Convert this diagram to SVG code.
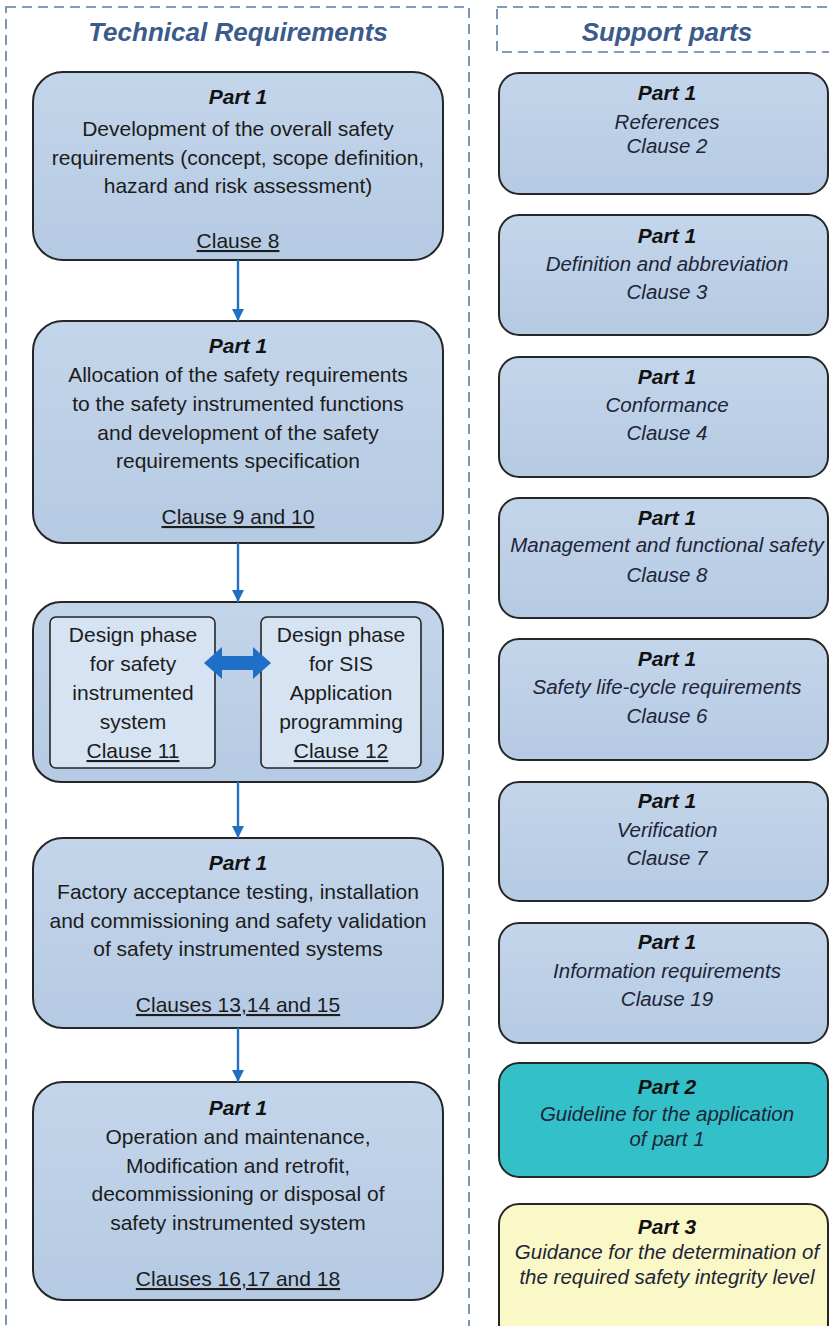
<svg xmlns="http://www.w3.org/2000/svg" width="829" height="1326" viewBox="0 0 829 1326">
  <defs>
    <linearGradient id="blueFill" x1="0" y1="0" x2="0" y2="1">
      <stop offset="0" stop-color="#c3d5ea"/>
      <stop offset="1" stop-color="#b5cae3"/>
    </linearGradient>
    <marker id="arrowHead" viewBox="0 0 10 10" refX="10" refY="5" markerWidth="5" markerHeight="5" orient="auto" markerUnits="strokeWidth">
      <path d="M0,0 L10,5 L0,10 Z" fill="#2270c4"/>
    </marker>
    <style>
      .frame { fill: none; stroke: #5a7ca6; stroke-width: 1.6; stroke-dasharray: 10 6; }
      .heading { font-family: "Liberation Sans", Arial, sans-serif; font-weight: bold; font-style: italic; font-size: 26px; fill: #3a5b8c; text-anchor: middle; }
      .box { fill: url(#blueFill); stroke: #262626; stroke-width: 2; }
      .inner { fill: #d6e3f2; stroke: #262626; stroke-width: 1.6; }
      .teal { fill: #33c0c8; stroke: #262626; stroke-width: 2; }
      .cream { fill: #fbf8c8; stroke: #262626; stroke-width: 2; }
      .t { font-family: "Liberation Sans", Arial, sans-serif; font-size: 21px; fill: #1c1c1c; text-anchor: middle; }
      .ti { font-family: "Liberation Sans", Arial, sans-serif; font-size: 20.5px; font-style: italic; fill: #1e2538; text-anchor: middle; }
      .part { font-family: "Liberation Sans", Arial, sans-serif; font-size: 21px; font-weight: bold; font-style: italic; fill: #111; text-anchor: middle; }
      .u { text-decoration: underline; }
      .link { stroke: #2270c4; stroke-width: 2.4; fill: none; marker-end: url(#arrowHead); }
    </style>
  </defs>

  <rect width="829" height="1326" fill="#ffffff"/>

  <!-- column frames -->
  <g id="column-frames">
    <rect class="frame" x="6" y="7" width="463" height="1340"/>
    <rect class="frame" x="497" y="7" width="345" height="45"/>
    <text class="heading" x="238" y="41">Technical Requirements</text>
    <text class="heading" x="667" y="41">Support parts</text>
  </g>

  <!-- technical requirements column -->
  <g id="overall-requirements">
    <rect class="box" x="33" y="72" width="410" height="188" rx="30"/>
    <text class="part" x="238" y="104">Part 1</text>
    <text class="t" x="238" y="136">Development of the overall safety</text>
    <text class="t" x="238" y="165">requirements (concept, scope definition,</text>
    <text class="t" x="238" y="193">hazard and risk assessment)</text>
    <text class="t u" x="238" y="248">Clause 8</text>
  </g>

  <g id="allocation">
    <rect class="box" x="33" y="321" width="410" height="222" rx="30"/>
    <text class="part" x="238" y="353">Part 1</text>
    <text class="t" x="238" y="382">Allocation of the safety requirements</text>
    <text class="t" x="238" y="411">to the safety instrumented functions</text>
    <text class="t" x="238" y="440">and development of the safety</text>
    <text class="t" x="238" y="468">requirements specification</text>
    <text class="t u" x="238" y="524">Clause 9 and 10</text>
  </g>

  <g id="design-phase">
    <rect class="box" x="33" y="602" width="410" height="180" rx="28"/>
    <g id="design-sis">
      <rect class="inner" x="50" y="617" width="165" height="151" rx="6"/>
      <text class="t" x="133" y="642">Design phase</text>
      <text class="t" x="133" y="671">for safety</text>
      <text class="t" x="133" y="700">instrumented</text>
      <text class="t" x="133" y="729">system</text>
      <text class="t u" x="133" y="758">Clause 11</text>
    </g>
    <g id="design-application">
      <rect class="inner" x="261" y="617" width="160" height="151" rx="6"/>
      <text class="t" x="341" y="642">Design phase</text>
      <text class="t" x="341" y="671">for SIS</text>
      <text class="t" x="341" y="700">Application</text>
      <text class="t" x="341" y="729">programming</text>
      <text class="t u" x="341" y="758">Clause 12</text>
    </g>
  </g>

  <g id="testing-validation">
    <rect class="box" x="33" y="838" width="410" height="190" rx="30"/>
    <text class="part" x="238" y="870">Part 1</text>
    <text class="t" x="238" y="899">Factory acceptance testing, installation</text>
    <text class="t" x="238" y="928">and commissioning and safety validation</text>
    <text class="t" x="238" y="956">of safety instrumented systems</text>
    <text class="t u" x="238" y="1012">Clauses 13,14 and 15</text>
  </g>

  <g id="operation">
    <rect class="box" x="33" y="1082" width="410" height="218" rx="30"/>
    <text class="part" x="238" y="1115">Part 1</text>
    <text class="t" x="238" y="1144">Operation and maintenance,</text>
    <text class="t" x="238" y="1173">Modification and retrofit,</text>
    <text class="t" x="238" y="1201">decommissioning or disposal of</text>
    <text class="t" x="238" y="1230">safety instrumented system</text>
    <text class="t u" x="238" y="1286">Clauses 16,17 and 18</text>
  </g>

  <!-- support parts column -->
  <g id="references">
    <rect class="box" x="499" y="73" width="329" height="121" rx="20"/>
    <text class="part" x="667" y="100">Part 1</text>
    <text class="ti" x="667" y="129">References</text>
    <text class="ti" x="667" y="153">Clause 2</text>
  </g>

  <g id="definitions">
    <rect class="box" x="499" y="215" width="329" height="120" rx="20"/>
    <text class="part" x="667" y="243">Part 1</text>
    <text class="ti" x="667" y="271">Definition and abbreviation</text>
    <text class="ti" x="667" y="299">Clause 3</text>
  </g>

  <g id="conformance">
    <rect class="box" x="499" y="357" width="329" height="120" rx="20"/>
    <text class="part" x="667" y="384">Part 1</text>
    <text class="ti" x="667" y="412">Conformance</text>
    <text class="ti" x="667" y="440">Clause 4</text>
  </g>

  <g id="management">
    <rect class="box" x="499" y="498" width="329" height="120" rx="20"/>
    <text class="part" x="667" y="525">Part 1</text>
    <text class="ti" x="667" y="552">Management and functional safety</text>
    <text class="ti" x="667" y="582">Clause 8</text>
  </g>

  <g id="life-cycle">
    <rect class="box" x="499" y="639" width="329" height="121" rx="20"/>
    <text class="part" x="667" y="666">Part 1</text>
    <text class="ti" x="667" y="694">Safety life-cycle requirements</text>
    <text class="ti" x="667" y="723">Clause 6</text>
  </g>

  <g id="verification">
    <rect class="box" x="499" y="782" width="329" height="119" rx="20"/>
    <text class="part" x="667" y="808">Part 1</text>
    <text class="ti" x="667" y="837">Verification</text>
    <text class="ti" x="667" y="865">Clause 7</text>
  </g>

  <g id="information">
    <rect class="box" x="499" y="923" width="329" height="120" rx="20"/>
    <text class="part" x="667" y="949">Part 1</text>
    <text class="ti" x="667" y="978">Information requirements</text>
    <text class="ti" x="667" y="1006">Clause 19</text>
  </g>

  <g id="part2-guideline">
    <rect class="teal" x="499" y="1063" width="329" height="114" rx="20"/>
    <text class="part" x="667" y="1094">Part 2</text>
    <text class="ti" x="667" y="1121" fill="#1b2a4a">Guideline for the application</text>
    <text class="ti" x="667" y="1146" fill="#1b2a4a">of part 1</text>
  </g>

  <g id="part3-guidance">
    <rect class="cream" x="499" y="1204" width="329" height="140" rx="20"/>
    <text class="part" x="667" y="1234">Part 3</text>
    <text class="ti" x="667" y="1259">Guidance for the determination of</text>
    <text class="ti" x="667" y="1284">the required safety integrity level</text>
  </g>

  <!-- connectors -->
  <g id="connectors">
    <line class="link" x1="238" y1="260" x2="238" y2="321"/>
    <line class="link" x1="238" y1="543" x2="238" y2="602"/>
    <line class="link" x1="238" y1="782" x2="238" y2="838"/>
    <line class="link" x1="238" y1="1028" x2="238" y2="1082"/>
    <polygon fill="#1f6fc6" points="204,663 222,647 222,656 253,656 253,647 271,663 253,679 253,670 222,670 222,679"/>
  </g>
</svg>
